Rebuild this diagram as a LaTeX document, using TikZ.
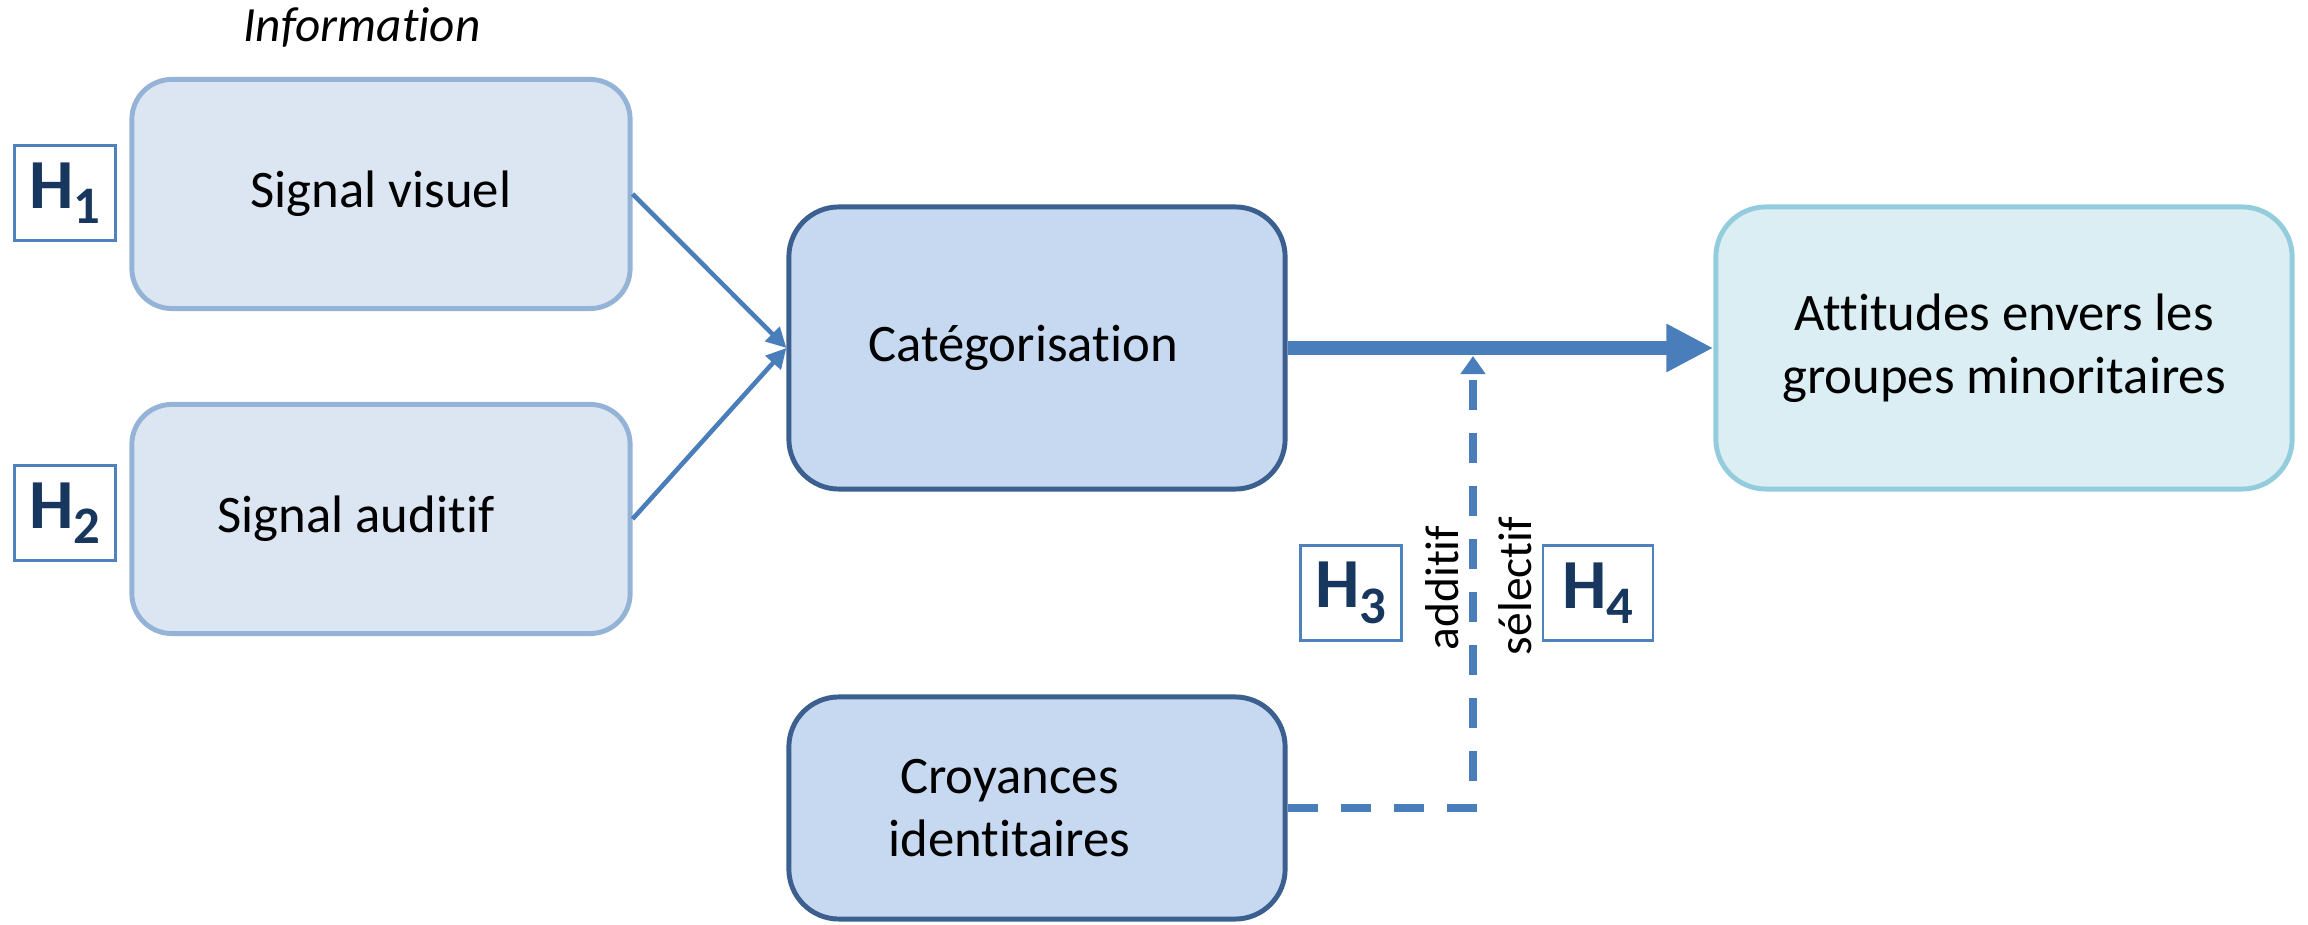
\documentclass[tikz,border=0pt]{standalone}
\usepackage{fontspec}
\setmainfont{Carlito}[Ligatures={NoCommon}]
\usetikzlibrary{arrows.meta}
\definecolor{sigfill}{HTML}{DCE6F2}
\definecolor{sigdraw}{HTML}{95B3D7}
\definecolor{catfill}{HTML}{C6D9F1}
\definecolor{catdraw}{HTML}{3B5F8E}
\definecolor{attfill}{HTML}{DBEEF4}
\definecolor{attdraw}{HTML}{93CDDD}
\definecolor{arrowblue}{HTML}{4A7EBB}
\definecolor{hblue}{HTML}{4F81BD}
\definecolor{hnavy}{HTML}{17375E}
\newcommand{\hsub}[1]{H\raisebox{-0.22em}{\fontsize{15}{15}\selectfont #1}}
\tikzset{
  box/.style={rounded corners=0.4cm, line width=1.4pt, align=center,
    font=\fontsize{15}{18}\selectfont, inner sep=0pt},
  sigbox/.style={box, fill=sigfill, draw=sigdraw, minimum width=4.98cm, minimum height=2.29cm},
  catbox/.style={box, fill=catfill, draw=catdraw, minimum width=4.96cm, minimum height=2.82cm, rounded corners=0.5cm},
  crobox/.style={box, fill=catfill, draw=catdraw, minimum width=4.96cm, minimum height=2.22cm, rounded corners=0.5cm},
  attbox/.style={box, fill=attfill, draw=attdraw, minimum width=5.76cm, minimum height=2.82cm, rounded corners=0.5cm},
  hlabel/.style={draw=hblue, line width=0.6pt, fill=white, text=hnavy,
    font=\fontsize{20}{20}\selectfont\bfseries, minimum height=0.95cm, minimum width=1.01cm, inner sep=0pt},
  thinarrow/.style={draw=arrowblue, line width=1.3pt, -{Triangle[length=0.2cm,width=0.2cm]}},
  thickarrow/.style={draw=arrowblue, line width=0.145cm, -{Triangle[length=0.47cm,width=0.45cm]}},
  dasharrow/.style={draw=arrowblue, line width=0.085cm, dash pattern=on 0.3cm off 0.23cm,
    -{Triangle[length=0.18cm,width=0.24cm]}},
  sidetext/.style={rotate=90, font=\fontsize{13.5}{13.5}\selectfont, inner sep=0pt}
}
\begin{document}
\begin{tikzpicture}[x=0.01cm, y=-0.01cm]
\useasboundingbox (0,0) rectangle (2308,925);
\node[font=\fontsize{14}{14}\selectfont\itshape] (info) at (362,27) {Information};
\node[sigbox] (vis) at (381,194) {Signal visuel};
\node[sigbox] (aud) at (381,519) {Signal auditif\kern0.5cm};
\node[hlabel] (h1) at (65,193) {\hsub{1}};
\node[hlabel] (h2) at (65,513) {\hsub{2}};
\node[catbox] (cat) at (1037,348) {Catégorisation\kern0.28cm};
\node[attbox] (att) at (2004,348) {Attitudes envers les\\groupes minoritaires};
\node[crobox] (cro) at (1037,808) {Croyances\kern0.55cm\\identitaires\kern0.55cm};
\node[hlabel] (h3) at (1351,593) {\hsub{3}};
\node[hlabel, minimum width=1.1cm] (h4) at (1598,593) {\hsub{4}};
\node[sidetext] (add) at (1442,588) {additif};
\node[sidetext] (sel) at (1515,586) {sélectif};
\coordinate (hit) at (1473,356);
\draw[thinarrow] (vis.east) -- (cat.west);
\draw[thinarrow] (aud.east) -- (cat.west);
\draw[thickarrow] (cat.east) -- (att.west);
\draw[dasharrow] (cro.east) -| (hit);
\end{tikzpicture}
\end{document}
